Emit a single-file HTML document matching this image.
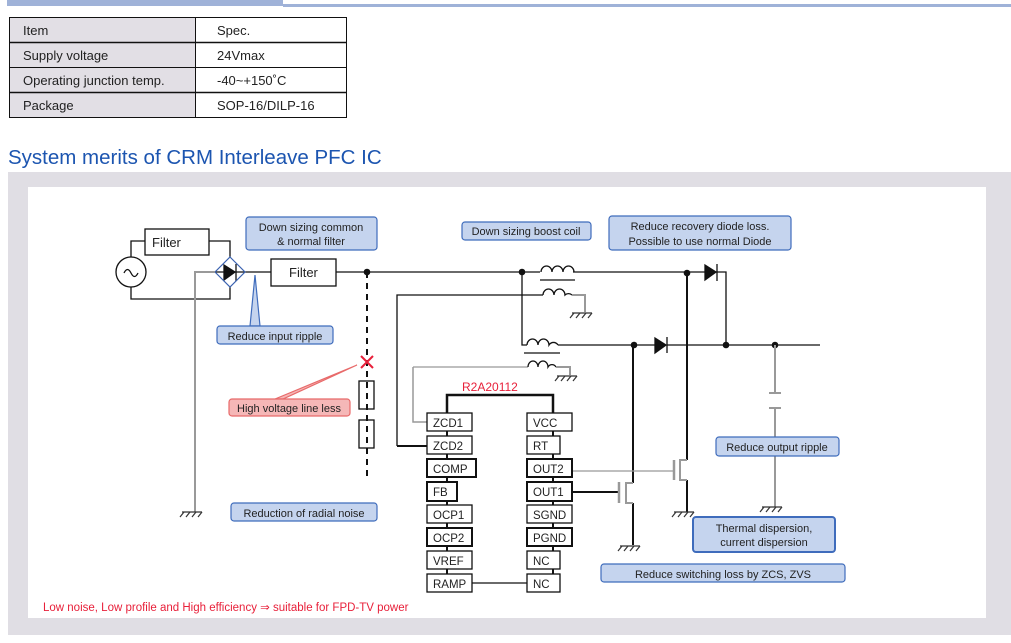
<!DOCTYPE html>
<html><head><meta charset="utf-8"><style>
html,body{margin:0;padding:0;background:#fff;}
body{width:1011px;height:643px;overflow:hidden;position:relative;font-family:"Liberation Sans",sans-serif;}
svg{position:absolute;left:0;top:0;}
</style></head><body>
<svg width="1011" height="643" viewBox="0 0 1011 643" xmlns="http://www.w3.org/2000/svg" font-family="Liberation Sans, sans-serif">
<!-- top bar -->
<rect x="7" y="0" width="276" height="6" fill="#9fb2d8"/>
<rect x="283" y="4" width="728" height="3" fill="#9fb2d8"/>
<!-- table -->
<rect x="9" y="17" width="186" height="100" fill="#e2dfe5"/>
<g stroke="#111" fill="none">
<rect x="9.5" y="17.5" width="337" height="100" stroke-width="1"/>
<line x1="195.5" y1="17" x2="195.5" y2="117"/>
<line x1="9" y1="42.5" x2="346" y2="42.5" stroke-width="1.5"/>
<line x1="9" y1="67.5" x2="346" y2="67.5"/>
<line x1="9" y1="92.5" x2="346" y2="92.5" stroke-width="1.5"/>
</g>
<g font-size="13" fill="#222">
<text x="23" y="35">Item</text><text x="217" y="35">Spec.</text>
<text x="23" y="60">Supply voltage</text><text x="217" y="60">24Vmax</text>
<text x="23" y="85">Operating junction temp.</text><text x="217" y="85">-40~+150˚C</text>
<text x="23" y="110">Package</text><text x="217" y="110">SOP-16/DILP-16</text>
</g>
<text x="8" y="164" font-size="20.5" fill="#1c55b0">System merits of CRM Interleave PFC IC</text>
<!-- panel -->
<rect x="8" y="172" width="1003" height="463" fill="#e0dee4"/>
<rect x="28" y="187" width="958" height="431" fill="#fff"/>

<!-- circuit black lines -->
<g stroke="#111" stroke-width="1.3" fill="none">
<circle cx="131" cy="272" r="15"/>
<path d="M124,273 q3.5,-7 7,0 q3.5,7 7,0"/>
<rect x="145" y="229" width="64" height="26"/>
<polyline points="131,257 131,241 145,241"/>
<polyline points="209,241 230,241 230,257"/>
<polyline points="131,287 131,299 230,299 230,287"/>
<rect x="271" y="259" width="65" height="27"/>
<line x1="245" y1="272" x2="271" y2="272"/>
<line x1="336" y1="272" x2="540" y2="272"/>
<line x1="573" y1="272" x2="705" y2="272"/>
<polyline points="716,272 726,272 726,345"/>
<line x1="540" y1="280" x2="575" y2="280"/>
<path d="M541,272 a5.5,6 0 0 1 11,0 a5.5,6 0 0 1 11,0 a5.5,6 0 0 1 11,0"/>
<polyline points="397,446 397,295 543,295"/>
<path d="M543,295 a5.5,6 0 0 1 11,0 a5.5,6 0 0 1 11,0 a5.5,6 0 0 1 7,0"/>
<polyline points="522,272 522,345 527,345"/>
<path d="M527,345 a5.5,6 0 0 1 11,0 a5.5,6 0 0 1 11,0 a5.5,6 0 0 1 9,0"/>
<line x1="524" y1="353" x2="560" y2="353"/>
<line x1="558" y1="345" x2="655" y2="345"/>
<line x1="667" y1="345" x2="820" y2="345"/>
<line x1="413" y1="367" x2="528" y2="367" stroke="#999"/>
<path d="M528,367 a5,6 0 0 1 10,0 a5,6 0 0 1 10,0 a5,6 0 0 1 8,0"/>
<line x1="397" y1="446" x2="427" y2="446" stroke-width="2"/>
<rect x="359" y="381" width="15" height="28"/>
<rect x="359" y="420" width="15" height="28"/>
<line x1="571" y1="492" x2="620" y2="492" stroke-width="2"/>
<line x1="633" y1="345" x2="633" y2="483" stroke-width="2"/>
<line x1="633" y1="503" x2="633" y2="545" stroke-width="2"/>
<line x1="687" y1="272" x2="687" y2="460" stroke-width="2"/>
<line x1="687" y1="480" x2="687" y2="512" stroke-width="2"/>
<line x1="472" y1="583" x2="527" y2="583"/>
<!-- IC frame -->
<polyline points="447,413 447,395 553,395 553,413" stroke-width="2.5"/>
</g>
<!-- dashed -->
<line x1="367" y1="272" x2="367" y2="478" stroke="#111" stroke-width="2" stroke-dasharray="6,5"/>
<!-- dots -->
<g fill="#111"><circle cx="367" cy="272" r="3.3"/><circle cx="522" cy="272" r="3.3"/><circle cx="687" cy="273" r="3.3"/><circle cx="634" cy="345" r="3.3"/><circle cx="726" cy="345" r="3.3"/><circle cx="775" cy="345" r="3.3"/></g>
<!-- diodes -->
<g fill="#111" stroke="#111" stroke-width="1.3">
<polygon points="705,265 705,280 716,272"/><line x1="717" y1="264" x2="717" y2="281"/>
<polygon points="655,338 655,353 666,345"/><line x1="667" y1="337" x2="667" y2="353"/>
<polygon points="224,265 224,280 235,272"/><line x1="236" y1="264" x2="236" y2="281"/>
<line x1="215" y1="272" x2="245" y2="272"/>
</g>
<polygon points="230,257 245,272 230,287 215,272" fill="none" stroke="#3a62b0" stroke-width="1.2"/>
<!-- gray lines -->
<g stroke="#999" stroke-width="2" fill="none">
<polyline points="215,272 195,272 195,512"/>
<polyline points="572,295 585,295 585,312"/>
<polyline points="556,367 570,367 570,375"/>
<polyline points="413,367 413,422 427,422" stroke-width="1.5"/>
<line x1="775" y1="345" x2="775" y2="393"/>
<line x1="775" y1="408" x2="775" y2="507"/>
<line x1="769" y1="393" x2="781" y2="393"/>
<line x1="769" y1="408" x2="781" y2="408"/>
<line x1="571" y1="471" x2="673" y2="471" stroke-width="1.2"/>
<line x1="619" y1="482" x2="619" y2="503" stroke-width="2.5"/>
<polyline points="633,483 626,483 626,503 633,503"/>
<line x1="674" y1="460" x2="674" y2="480" stroke-width="2.5"/>
<polyline points="687,460 680,460 680,480 687,480"/>
</g>
<!-- grounds -->
<g stroke="#333" stroke-width="1.2" fill="none">
<g transform="translate(190,512)"><line x1="-8" y1="0" x2="12" y2="0"/><line x1="-6" y1="0" x2="-10" y2="5"/><line x1="0" y1="0" x2="-4" y2="5"/><line x1="6" y1="0" x2="2" y2="5"/><line x1="12" y1="0" x2="8" y2="5"/></g>
<g transform="translate(580,313)"><line x1="-8" y1="0" x2="12" y2="0"/><line x1="-6" y1="0" x2="-10" y2="5"/><line x1="0" y1="0" x2="-4" y2="5"/><line x1="6" y1="0" x2="2" y2="5"/><line x1="12" y1="0" x2="8" y2="5"/></g>
<g transform="translate(565,376)"><line x1="-8" y1="0" x2="12" y2="0"/><line x1="-6" y1="0" x2="-10" y2="5"/><line x1="0" y1="0" x2="-4" y2="5"/><line x1="6" y1="0" x2="2" y2="5"/><line x1="12" y1="0" x2="8" y2="5"/></g>
<g transform="translate(628,546)"><line x1="-8" y1="0" x2="12" y2="0"/><line x1="-6" y1="0" x2="-10" y2="5"/><line x1="0" y1="0" x2="-4" y2="5"/><line x1="6" y1="0" x2="2" y2="5"/><line x1="12" y1="0" x2="8" y2="5"/></g>
<g transform="translate(682,512)"><line x1="-8" y1="0" x2="12" y2="0"/><line x1="-6" y1="0" x2="-10" y2="5"/><line x1="0" y1="0" x2="-4" y2="5"/><line x1="6" y1="0" x2="2" y2="5"/><line x1="12" y1="0" x2="8" y2="5"/></g>
<g transform="translate(770,507)"><line x1="-8" y1="0" x2="12" y2="0"/><line x1="-6" y1="0" x2="-10" y2="5"/><line x1="0" y1="0" x2="-4" y2="5"/><line x1="6" y1="0" x2="2" y2="5"/><line x1="12" y1="0" x2="8" y2="5"/></g>
</g>
<!-- pins -->
<g stroke="#111" stroke-width="1.3" fill="#fff">
<line x1="447" y1="431" x2="447" y2="574" stroke-width="2"/>
<line x1="553" y1="431" x2="553" y2="574" stroke-width="2"/>
<rect x="427" y="413" width="45" height="18"/><rect x="427" y="436" width="45" height="18"/>
<rect x="427" y="459" width="49" height="18" stroke-width="2"/><rect x="427" y="482" width="30" height="19" stroke-width="2"/>
<rect x="427" y="505" width="45" height="18"/><rect x="427" y="528" width="45" height="18" stroke-width="2"/>
<rect x="427" y="551" width="45" height="18"/><rect x="427" y="574" width="45" height="18"/>
<rect x="527" y="413" width="45" height="18"/><rect x="527" y="436" width="33" height="18"/>
<rect x="527" y="459" width="45" height="18" stroke-width="2"/><rect x="527" y="482" width="45" height="19" stroke-width="2"/>
<rect x="527" y="505" width="45" height="18"/><rect x="527" y="528" width="45" height="18" stroke-width="2"/>
<rect x="527" y="551" width="33" height="18"/><rect x="527" y="574" width="33" height="18"/>
</g>
<g font-size="11.5" fill="#222">
<text x="433" y="427">ZCD1</text><text x="433" y="450">ZCD2</text><text x="433" y="473">COMP</text><text x="433" y="496">FB</text>
<text x="433" y="519">OCP1</text><text x="433" y="542">OCP2</text><text x="433" y="565">VREF</text><text x="433" y="588">RAMP</text>
<text x="533" y="427">VCC</text><text x="533" y="450">RT</text><text x="533" y="473">OUT2</text><text x="533" y="496">OUT1</text>
<text x="533" y="519">SGND</text><text x="533" y="542">PGND</text><text x="533" y="565">NC</text><text x="533" y="588">NC</text>
<text x="152" y="247" font-size="13">Filter</text><text x="289" y="277" font-size="13">Filter</text>
</g>
<text x="462" y="391" font-size="12" fill="#e8203a">R2A20112</text>
<!-- red X -->
<g stroke="#e8203a" stroke-width="2"><line x1="361" y1="356" x2="373" y2="368"/><line x1="373" y1="356" x2="361" y2="368"/></g>
<!-- callouts -->
<g fill="#c5d4ee" stroke="#3f6cbc" stroke-width="1.2">
<rect x="246" y="217" width="131" height="33" rx="3"/>
<polygon points="250,326 255,275 260,326" />
<rect x="217" y="326" width="116" height="18" rx="3"/>
<rect x="462" y="222" width="129" height="18" rx="3"/>
<rect x="609" y="216" width="182" height="34" rx="3"/>
<rect x="231" y="503" width="146" height="18" rx="3"/>
<rect x="716" y="437" width="123" height="19" rx="3"/>
<rect x="693" y="517" width="142" height="35" rx="3" stroke-width="2"/>
<rect x="601" y="564" width="244" height="18" rx="3"/>
</g>
<g fill="#f5b7b7" stroke="#e86a6a" stroke-width="1.2">
<polygon points="275,399 357,365 283,399"/>
<rect x="229" y="399" width="121" height="17" rx="3"/>
</g>
<g font-size="11" fill="#222" text-anchor="middle">
<text x="311" y="231">Down sizing common</text><text x="311" y="245">&amp; normal filter</text>
<text x="275" y="340">Reduce input ripple</text>
<text x="526" y="235">Down sizing boost coil</text>
<text x="700" y="230">Reduce recovery diode loss.</text><text x="700" y="245">Possible to use normal Diode</text>
<text x="289" y="412">High voltage line less</text>
<text x="304" y="517">Reduction of radial noise</text>
<text x="777" y="451">Reduce output ripple</text>
<text x="764" y="532">Thermal dispersion,</text><text x="764" y="546">current dispersion</text>
<text x="723" y="578">Reduce switching loss by ZCS, ZVS</text>
</g>
<text x="43" y="611" font-size="11.5" fill="#e8203a">Low noise, Low profile and High efficiency ⇒ suitable for FPD-TV power</text>
</svg>
</body></html>
